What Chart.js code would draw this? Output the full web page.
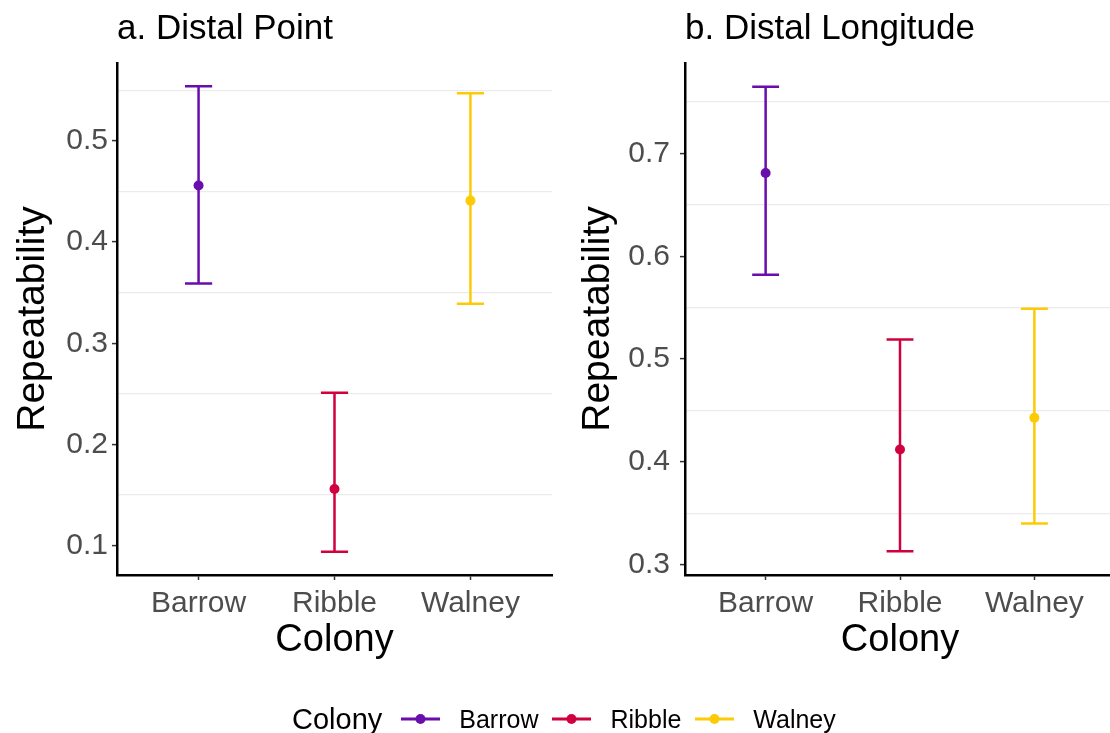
<!DOCTYPE html>
<html>
<head>
<meta charset="utf-8">
<script src="https://cdn.jsdelivr.net/npm/chart.js@4/dist/chart.umd.min.js"></script>
<style>
  body { margin: 0; background: #fff; width: 1110px; height: 733px; overflow: hidden; position: relative;
         font-family: "Liberation Sans", Arial, sans-serif; }
  #panelA { position: absolute; left: 0; top: 0; width: 560px; height: 733px; }
  #panelB { position: absolute; left: 560px; top: 0; width: 550px; height: 733px; overflow: hidden; }
  #legend { position: absolute; left: 292px; top: 704px; height: 30px; display: flex; align-items: center; }
  #legend .ltitle { font-size: 29px; color: #000; margin-right: 18px; }
  #legend svg { margin-right: 18px; }
  #legend .lab { font-size: 25px; color: #000; margin-right: 13px; }
</style>
</head>
<body>
<div id="panelA"><canvas id="chartA" width="560" height="733"></canvas></div>
<div id="panelB"><canvas id="chartB" width="560" height="733"></canvas></div>
<div id="legend"><span class="ltitle">Colony</span></div>

<script>
const colonies = ["Barrow", "Ribble", "Walney"];
const colonyColors = ["#6a0dad", "#d1003f", "#fccb05"];

// a. Distal Point
const pointEst = [0.456, 0.156, 0.441];
const pointLower = [0.359, 0.094, 0.339];
const pointUpper = [0.554, 0.251, 0.547];
const pointTicks = [0.1, 0.2, 0.3, 0.4, 0.5];
const pointGrid = [0.15, 0.25, 0.35, 0.45, 0.55];

// b. Distal Longitude
const lonEst = [0.681, 0.412, 0.443];
const lonLower = [0.582, 0.313, 0.340];
const lonUpper = [0.765, 0.519, 0.549];
const lonTicks = [0.3, 0.4, 0.5, 0.6, 0.7];
const lonGrid = [0.35, 0.45, 0.55, 0.65, 0.75];

Chart.defaults.font.family = '"Liberation Sans", Arial, sans-serif';

// whiskers with caps, drawn under the points
const errorBars = {
    id: 'errorBars',
    beforeDatasetsDraw(chart, args, opts) {
        const { ctx, scales: { x, y } } = chart;
        ctx.save();
        ctx.lineWidth = 2.5;
        opts.lower.forEach((lo, i) => {
            const px = x.getPixelForValue(i + 1);
            const left = x.getPixelForValue(i + 1 - 0.1);
            const right = x.getPixelForValue(i + 1 + 0.1);
            const top = y.getPixelForValue(opts.upper[i]);
            const bot = y.getPixelForValue(lo);
            ctx.strokeStyle = colonyColors[i];
            ctx.beginPath();
            ctx.moveTo(px, top); ctx.lineTo(px, bot);
            ctx.moveTo(left, top); ctx.lineTo(right, top);
            ctx.moveTo(left, bot); ctx.lineTo(right, bot);
            ctx.stroke();
        });
        ctx.restore();
    }
};

function makeChart(id, title, est, lower, upper, ticks, grid, yMin, yMax, yWidth, yTitlePad, labelPad, padRight) {
    const allTicks = ticks.concat(grid).sort((a, b) => a - b);
    return new Chart(document.getElementById(id), {
        type: 'scatter',
        data: {
            datasets: [{
                data: est.map((v, i) => ({ x: i + 1, y: v })),
                pointRadius: 5,
                pointBackgroundColor: colonyColors,
                pointBorderColor: colonyColors,
                pointBorderWidth: 0,
                showLine: false
            }]
        },
        options: {
            responsive: false,
            animation: false,
            layout: { padding: { left: 0, right: padRight, top: 0, bottom: 70 } },
            plugins: {
                legend: { display: false },
                tooltip: { enabled: false },
                title: {
                    display: true, text: title, align: 'start', fullSize: false,
                    color: '#000', font: { size: 35, weight: 'normal' },
                    padding: { top: 8, bottom: 13 }
                },
                errorBars: { lower: lower, upper: upper }
            },
            scales: {
                x: {
                    type: 'linear', min: 0.4, max: 3.6,
                    afterBuildTicks: s => { s.ticks = colonies.map((c, i) => ({ value: i + 1 })); },
                    afterFit: s => { s.height = 88; },
                    ticks: {
                        autoSkip: false, maxRotation: 0, padding: 6, color: '#4d4d4d',
                        font: { size: 30 },
                        callback: v => colonies[v - 1]
                    },
                    grid: { drawOnChartArea: false, tickLength: 5, tickColor: '#333', tickWidth: 1.5 },
                    border: { display: true, color: '#000', width: 2.5 },
                    title: { display: true, text: 'Colony', color: '#000', font: { size: 38 }, padding: 0 }
                },
                y: {
                    min: yMin, max: yMax,
                    afterBuildTicks: s => { s.ticks = allTicks.map(v => ({ value: v })); },
                    afterFit: s => { s.width = yWidth; },
                    ticks: {
                        autoSkip: false, padding: labelPad, color: '#4d4d4d',
                        font: { size: 30 },
                        callback: v => ticks.includes(v) ? v.toFixed(1) : ''
                    },
                    grid: {
                        color: c => (c.tick && ticks.includes(c.tick.value)) ? 'rgba(0,0,0,0)' : '#ebebeb',
                        lineWidth: 1.2,
                        tickLength: 5,
                        tickWidth: 1.5,
                        tickColor: c => (c.tick && ticks.includes(c.tick.value)) ? '#333' : 'rgba(0,0,0,0)'
                    },
                    border: { display: true, color: '#000', width: 2.5 },
                    title: { display: true, text: 'Repeatability', color: '#000', font: { size: 39 }, padding: { top: yTitlePad, bottom: 0 } }
                }
            }
        },
        plugins: [errorBars]
    });
}

makeChart('chartA', 'a. Distal Point', pointEst, pointLower, pointUpper, pointTicks, pointGrid,
    0.071, 0.577, 117, 9.6, 4, 8);
makeChart('chartB', 'b. Distal Longitude', lonEst, lonLower, lonUpper, lonTicks, lonGrid,
    0.290, 0.788, 125, 14.6, 10, 0);

// legend
const legend = document.getElementById('legend');
colonies.forEach((c, i) => {
    const svgNS = 'http://www.w3.org/2000/svg';
    const svg = document.createElementNS(svgNS, 'svg');
    svg.setAttribute('width', '41');
    svg.setAttribute('height', '24');
    const line = document.createElementNS(svgNS, 'line');
    line.setAttribute('x1', '1'); line.setAttribute('x2', '40');
    line.setAttribute('y1', '12'); line.setAttribute('y2', '12');
    line.setAttribute('stroke', colonyColors[i]);
    line.setAttribute('stroke-width', '3');
    const dot = document.createElementNS(svgNS, 'circle');
    dot.setAttribute('cx', '20.5'); dot.setAttribute('cy', '12'); dot.setAttribute('r', '5');
    dot.setAttribute('fill', colonyColors[i]);
    svg.appendChild(line);
    svg.appendChild(dot);
    legend.appendChild(svg);
    const lab = document.createElement('span');
    lab.className = 'lab';
    lab.textContent = c;
    legend.appendChild(lab);
});
</script>
</body>
</html>
